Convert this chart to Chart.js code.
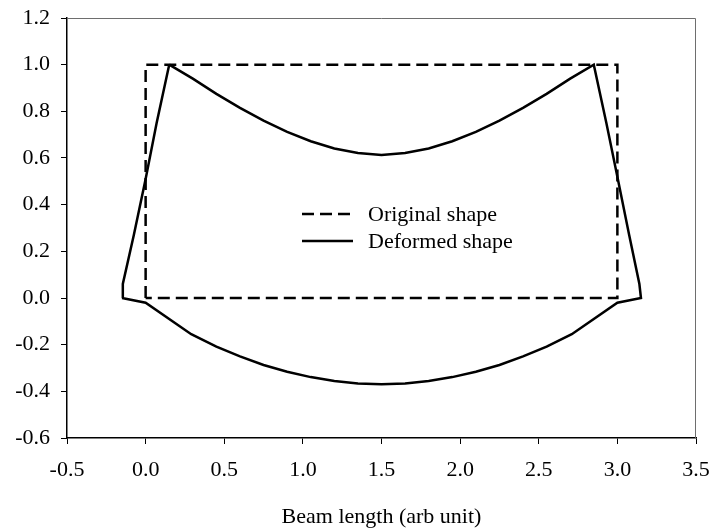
<!DOCTYPE html>
<html>
<head>
<meta charset="utf-8">
<script src="https://cdn.jsdelivr.net/npm/chart.js@4/dist/chart.umd.min.js"></script>
<style>
  html, body { margin: 0; padding: 0; background: #fff; }
  #wrap { width: 716px; height: 531px; }
</style>
</head>
<body>
<div id="wrap"><canvas id="beam"></canvas></div>
<script>
// Undeformed beam outline (closed rectangle)
const originalX = [0, 0, 3, 3, 0];
const originalY = [0, 1, 1, 0, 0];

// Deformed outline, traced top edge -> right side -> bottom edge -> left side
const deformedX = [0.15, 0.3, 0.45, 0.6, 0.75, 0.9, 1.05, 1.2, 1.35, 1.5, 1.65, 1.8, 1.95, 2.1, 2.25, 2.4, 2.55, 2.7, 2.85,
                   2.93, 3.0, 3.075, 3.14, 3.15, 3.0,
                   2.71, 2.55, 2.4, 2.25, 2.1, 1.95, 1.8, 1.65, 1.5, 1.35, 1.2, 1.05, 0.9, 0.75, 0.6, 0.45, 0.29, 0.0,
                   -0.15, -0.145, -0.075, 0.0, 0.07, 0.15];
const deformedY = [1.0, 0.94, 0.875, 0.815, 0.76, 0.712, 0.672, 0.641, 0.621, 0.613, 0.621, 0.641, 0.672, 0.712, 0.76, 0.815, 0.875, 0.94, 1.0,
                   0.75, 0.52, 0.27, 0.06, 0.0, -0.02,
                   -0.155, -0.208, -0.25, -0.287, -0.316, -0.339, -0.356, -0.366, -0.37, -0.366, -0.356, -0.339, -0.316, -0.287, -0.25, -0.208, -0.155, -0.02,
                   0.0, 0.06, 0.27, 0.51, 0.75, 1.0];

const seriesNames = ['Original shape', 'Deformed shape'];
const xTitle = 'Beam length (arb unit)';

const FONT = { family: '"Liberation Serif", "Times New Roman", serif', size: 22 };

function toPoints(xs, ys) {
    return xs.map((x, i) => ({ x: x, y: ys[i] }));
}

// thin frame on the top and right of the plot area
const framePlugin = {
    id: 'frame',
    afterDraw(chart) {
        const a = chart.chartArea;
        const ctx = chart.ctx;
        ctx.save();
        ctx.strokeStyle = '#6e6e6e';
        ctx.lineWidth = 1;
        ctx.beginPath();
        ctx.moveTo(a.left, a.top + 0.5);
        ctx.lineTo(a.right - 0.5, a.top + 0.5);
        ctx.lineTo(a.right - 0.5, a.bottom);
        ctx.stroke();
        ctx.restore();
    }
};

// legend box sitting inside the plot
const insideLegend = {
    id: 'insideLegend',
    afterDraw(chart) {
        const ctx = chart.ctx;
        const x0 = 302, x1 = 353, tx = 368;
        const rows = [214, 241];
        ctx.save();
        ctx.font = FONT.size + 'px ' + FONT.family;
        ctx.textBaseline = 'middle';
        ctx.fillStyle = '#000';
        chart.data.datasets.forEach((ds, i) => {
            const y = rows[i];
            ctx.strokeStyle = ds.borderColor;
            ctx.lineWidth = ds.borderWidth;
            ctx.setLineDash(ds.borderDash || []);
            ctx.beginPath();
            ctx.moveTo(x0, y);
            ctx.lineTo(x1, y);
            ctx.stroke();
            ctx.setLineDash([]);
            ctx.fillText(ds.label, tx, y + 1);
        });
        ctx.restore();
    }
};

const ctx = document.getElementById('beam').getContext('2d');
new Chart(ctx, {
    type: 'scatter',
    data: {
        datasets: [
            {
                label: seriesNames[0],
                data: toPoints(originalX, originalY),
                showLine: true,
                borderColor: '#000',
                borderWidth: 2.5,
                borderDash: [12, 6],
                pointRadius: 0,
                fill: false
            },
            {
                label: seriesNames[1],
                data: toPoints(deformedX, deformedY),
                showLine: true,
                borderColor: '#000',
                borderWidth: 2.5,
                pointRadius: 0,
                fill: false
            }
        ]
    },
    options: {
        responsive: true,
        maintainAspectRatio: false,
        animation: false,
        layout: { padding: { top: 18, right: 20, left: 0, bottom: 0 } },
        plugins: {
            legend: { display: false },
            tooltip: { enabled: false }
        },
        scales: {
            x: {
                type: 'linear',
                min: -0.5,
                max: 3.5,
                ticks: {
                    stepSize: 0.5,
                    color: '#000',
                    font: FONT,
                    padding: 13,
                    maxRotation: 0,
                    callback: v => v.toFixed(1)
                },
                grid: { drawOnChartArea: false, drawTicks: true, tickLength: 6, color: '#000' },
                border: { color: '#000', width: 1.5 },
                title: { display: true, text: xTitle, color: '#000', font: FONT, padding: { top: 0, bottom: 1 } },
                afterFit(scale) {
                    scale.height = 93;
                    // keep the end labels from shrinking the plot
                    scale.paddingLeft = 0;
                    scale.paddingRight = 0;
                }
            },
            y: {
                type: 'linear',
                min: -0.6,
                max: 1.2,
                ticks: {
                    stepSize: 0.2,
                    color: '#000',
                    font: FONT,
                    padding: 11,
                    callback: v => v.toFixed(1)
                },
                grid: { drawOnChartArea: false, drawTicks: true, tickLength: 6, color: '#000' },
                border: { color: '#000', width: 1.5 },
                afterFit(scale) {
                    scale.width = 67;
                    scale.paddingTop = 0;
                    scale.paddingBottom = 0;
                }
            }
        }
    },
    plugins: [framePlugin, insideLegend]
});
</script>
</body>
</html>
